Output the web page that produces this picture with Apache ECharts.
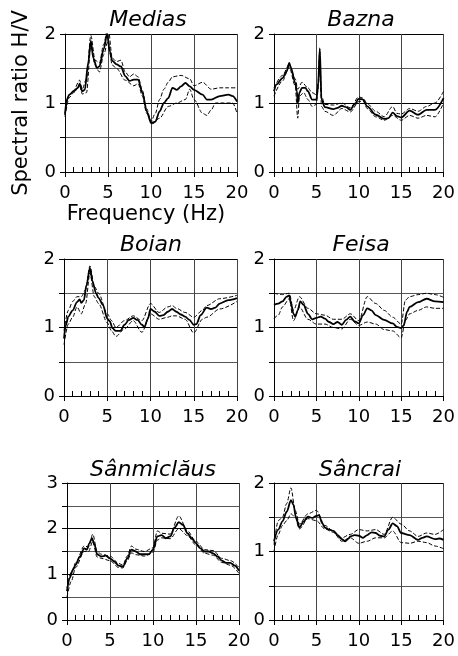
<!DOCTYPE html>
<html>
<head>
<meta charset="utf-8">
<script src="https://cdn.jsdelivr.net/npm/echarts@6/dist/echarts.min.js"></script>
<style>html,body{margin:0;padding:0;background:#fff}#c{width:458px;height:656px}</style>
</head>
<body>
<div id="c"></div>
<script>
// ---- Data (frequency in Hz, spectral ratio H/V) ----
var siteNames = ['Medias', 'Bazna', 'Boian', 'Feisa', 'Sânmiclăus', 'Sâncrai'];
var yMaxes = [2, 2, 2, 2, 3, 2];
var xTicks = [0, 5, 10, 15, 20];

var mediasFreq = [0,0.2,0.5,1,1.5,1.7,2,2.3,2.7,3,3.3,3.7,4,4.5,4.9,5.2,5.5,6,6.5,7,7.5,8,8.5,9,9.5,10,10.5,11,11.5,12,12.5,13,13.5,14,14.5,15,16,16.5,17,18,19,19.5,20];
var mediasMean = [0.83,1.05,1.12,1.17,1.22,1.28,1.17,1.19,1.58,1.90,1.65,1.51,1.53,1.78,2.0,1.75,1.61,1.56,1.53,1.39,1.32,1.34,1.34,1.15,0.88,0.71,0.73,0.88,1.0,1.07,1.22,1.19,1.24,1.29,1.24,1.19,1.12,1.05,1.05,1.10,1.12,1.10,1.02];
var mediasUpFreq = [0,0.5,1,1.7,2,2.5,3,3.5,4,4.5,5,5.5,6,6.5,7,7.5,8,8.5,9,9.5,10,10.5,11,11.5,12,12.5,13.5,14.5,15,16,17,18,19,20];
var mediasUp = [0.85,1.12,1.18,1.33,1.2,1.35,1.98,1.62,1.58,1.85,2.12,1.65,1.6,1.62,1.45,1.38,1.42,1.38,1.18,0.92,0.73,0.85,1.05,1.2,1.3,1.38,1.4,1.35,1.25,1.3,1.2,1.22,1.22,1.22];
var mediasLoFreq = [0,0.5,1,1.7,2,2.5,3,3.5,4,4.5,5,5.5,6,7,8,8.5,9,9.5,10.2,11,12,13,14,14.5,15,16,16.5,17,17.5,18.5,19.5,20];
var mediasLo = [0.8,1.08,1.15,1.25,1.13,1.15,1.82,1.55,1.45,1.7,1.9,1.55,1.5,1.33,1.25,1.28,1.1,0.85,0.7,0.78,0.95,1.0,1.05,1.2,1.05,0.85,0.82,0.9,1.0,1.0,1.0,0.85];

var baznaFreq = [0,0.3,1,1.5,1.8,2,2.5,2.7,2.8,3,3.3,3.7,4,4.5,5,5.2,5.4,5.6,6,7,7.5,8,8.5,9,9.5,10,10.5,11,12,13,13.5,14,14.5,15,16,17,18,19,20];
var baznaMean = [1.17,1.27,1.36,1.46,1.58,1.51,1.29,1.17,1.0,1.15,1.22,1.22,1.17,1.05,1.05,1.24,1.79,1.05,0.94,0.91,0.93,0.96,0.94,0.90,0.98,1.06,1.05,0.95,0.83,0.77,0.78,0.86,0.81,0.79,0.89,0.83,0.90,0.90,1.07];
var baznaUpFreq = [0,1,1.8,2.5,2.8,3.3,4,4.5,5,5.2,5.4,5.6,6,7,8,9,10,10.5,11,12,13,14,14.5,15,16,17,18,19,20];
var baznaUp = [1.22,1.4,1.56,1.35,1.2,1.3,1.22,1.15,1.12,1.3,1.75,1.1,0.98,0.97,1.0,0.93,1.09,1.07,0.99,0.88,0.8,0.95,0.85,0.84,0.92,0.88,0.95,1.0,1.17];
var baznaLoFreq = [0,1,1.8,2.5,2.8,3,3.5,4,4.5,5,5.2,5.4,5.6,6,7,8,9,10,10.5,11,12,13,14,15,16,17,18,19,20];
var baznaLo = [1.1,1.32,1.52,1.25,0.78,1.1,1.15,1.05,0.95,0.98,1.2,1.6,0.95,0.88,0.82,0.92,0.87,1.02,1.03,0.92,0.8,0.75,0.82,0.75,0.82,0.78,0.82,0.8,1.0];

var boianFreq = [0,0.2,0.5,1,1.5,1.8,2,2.3,2.6,3,3.3,3.7,4,4.5,5,5.3,5.6,6,6.5,7,7.5,8,8.5,9,9.3,9.7,10,10.5,11,11.5,12,12.5,13,13.5,14,14.5,15,15.3,15.8,16.5,17,17.5,18,19,20];
var boianMean = [0.84,1.03,1.16,1.25,1.37,1.41,1.36,1.40,1.62,1.87,1.67,1.50,1.43,1.33,1.13,1.09,0.99,0.95,0.95,1.04,1.11,1.14,1.11,1.04,1.01,1.13,1.27,1.23,1.17,1.18,1.23,1.27,1.23,1.19,1.16,1.11,1.04,1.05,1.18,1.29,1.27,1.29,1.35,1.40,1.43];
var boianBandFreq = [0,0.5,1,1.5,2,2.5,3,3.5,4,5,5.5,6,7,8,9,10,11,12,12.5,13,14,15,16,16.5,18,20];
var boianUp = [0.95,1.25,1.38,1.45,1.45,1.55,1.9,1.6,1.5,1.2,1.1,1.0,1.1,1.17,1.1,1.35,1.22,1.3,1.32,1.28,1.22,1.15,1.25,1.32,1.42,1.47];
var boianLo = [0.75,1.05,1.15,1.3,1.2,1.35,1.8,1.45,1.35,1.07,0.95,0.87,0.98,1.1,0.93,1.2,1.12,1.15,1.17,1.17,1.12,0.92,1.12,1.15,1.27,1.38];

var feisaFreq = [0,0.5,1,1.5,1.8,2,2.3,2.5,2.8,3.1,3.5,4,4.5,5,5.5,6,6.5,7,7.5,8,8.5,9,9.5,10,10.5,11,11.5,12,13,14,14.5,15,15.3,15.7,16,17,18,19,20];
var feisaMean = [1.33,1.35,1.38,1.45,1.47,1.35,1.20,1.16,1.25,1.38,1.33,1.20,1.12,1.14,1.16,1.13,1.08,1.05,1.08,1.04,1.11,1.16,1.09,1.06,1.18,1.28,1.25,1.18,1.11,1.06,1.01,0.99,1.03,1.23,1.30,1.37,1.42,1.38,1.37];
var feisaUpFreq = [0,1,1.8,2.3,3,4,5,6,7,8,9,10,11,12,13,14,15,15.5,16,17,18,19,20];
var feisaUp = [1.5,1.48,1.5,1.25,1.45,1.28,1.2,1.18,1.12,1.12,1.2,1.1,1.45,1.35,1.25,1.15,1.05,1.4,1.45,1.48,1.5,1.48,1.44];
var feisaLoFreq = [0,0.5,1,1.8,2.3,3,4,5,6,7,8,9,10,11,12,13,14,15,15.5,16,17,18,19,20];
var feisaLo = [1.13,1.18,1.3,1.42,1.1,1.3,1.12,1.05,1.05,1.0,0.98,1.12,1.03,1.08,1.05,0.97,0.95,0.85,1.1,1.2,1.25,1.3,1.28,1.28];

var sanmiFreq = [0,0.3,0.7,1,1.5,2,2.3,2.6,2.9,3.2,3.5,4,4.5,5,5.5,6,6.5,7,7.5,8,8.5,9,9.5,10,10.5,11,11.5,12,12.5,13,13.5,14,14.5,15,15.5,16,16.5,17,17.5,18,18.5,19,19.5,20];
var sanmiMean = [0.63,0.92,1.10,1.21,1.39,1.57,1.54,1.68,1.79,1.65,1.44,1.39,1.41,1.35,1.28,1.19,1.17,1.35,1.54,1.50,1.44,1.44,1.44,1.54,1.83,1.86,1.79,1.83,2.02,2.14,2.08,1.90,1.79,1.68,1.57,1.50,1.50,1.46,1.39,1.30,1.25,1.25,1.19,1.08];
var sanmiBandFreq = [0,0.5,1,2,2.5,3,3.5,4,5,6,6.5,7,7.5,8,9,10,10.5,11,12,13,14,15,16,17,18,19,20];
var sanmiUp = [0.7,1.05,1.25,1.62,1.6,1.88,1.5,1.44,1.4,1.24,1.2,1.4,1.62,1.55,1.5,1.58,1.95,1.9,1.88,2.28,1.95,1.72,1.54,1.52,1.35,1.3,1.15];
var sanmiLo = [0.5,0.85,1.15,1.5,1.5,1.72,1.38,1.35,1.3,1.15,1.14,1.3,1.47,1.43,1.4,1.48,1.75,1.8,1.78,2.0,1.85,1.64,1.46,1.42,1.26,1.2,1.02];

var sancrFreq = [0,0.5,1,1.5,2,2.3,2.6,3,3.5,4,4.5,5,5.3,5.7,6,6.5,7,7.5,8,8.4,8.8,9,9.5,10,10.5,11,11.5,12,12.5,13,13.5,14,14.5,15,16,17,17.5,18,19,19.5,20];
var sancrMean = [1.15,1.32,1.44,1.58,1.75,1.68,1.49,1.35,1.44,1.51,1.49,1.52,1.53,1.41,1.35,1.32,1.30,1.24,1.18,1.15,1.19,1.22,1.24,1.23,1.20,1.24,1.28,1.27,1.23,1.22,1.32,1.41,1.37,1.27,1.24,1.17,1.20,1.22,1.18,1.19,1.17];
var sancrBandFreq = [0,0.5,1,1.5,2,2.5,3,4,5,6,7,8,9,10,11,12,13,14,15,16,17,18,19,20];
var sancrUp = [1.1,1.45,1.5,1.7,1.93,1.6,1.4,1.55,1.6,1.38,1.3,1.2,1.25,1.32,1.3,1.32,1.25,1.5,1.4,1.3,1.22,1.27,1.25,1.32];
var sancrLo = [1.0,1.25,1.38,1.45,1.55,1.5,1.33,1.48,1.45,1.33,1.28,1.15,1.2,1.12,1.15,1.2,1.2,1.3,1.13,1.12,1.15,1.13,1.08,1.04];

var panels = [
  {mean:[mediasFreq,mediasMean], up:[mediasUpFreq,mediasUp], lo:[mediasLoFreq,mediasLo]},
  {mean:[baznaFreq,baznaMean], up:[baznaUpFreq,baznaUp], lo:[baznaLoFreq,baznaLo]},
  {mean:[boianFreq,boianMean], up:[boianBandFreq,boianUp], lo:[boianBandFreq,boianLo]},
  {mean:[feisaFreq,feisaMean], up:[feisaUpFreq,feisaUp], lo:[feisaLoFreq,feisaLo]},
  {mean:[sanmiFreq,sanmiMean], up:[sanmiBandFreq,sanmiUp], lo:[sanmiBandFreq,sanmiLo]},
  {mean:[sancrFreq,sancrMean], up:[sancrBandFreq,sancrUp], lo:[sancrBandFreq,sancrLo]}
];

// ---- Layout ----
var gridBoxes = [
  {left:65, top:34, width:172, height:138},
  {left:274, top:34, width:172, height:138},
  {left:64, top:259, width:173, height:137},
  {left:274, top:259, width:172, height:137},
  {left:67, top:483, width:172, height:137},
  {left:274, top:483, width:172, height:137}
];
var titlePos = [[148,20],[361,20],[151,245],[361,245],[153,470],[360,470]];
var FONT = '"DejaVu Sans", sans-serif';

function zip(a, b) { return a.map(function (x, i) { return [x, b[i]]; }); }

var grids = [], xAxes = [], yAxes = [], series = [], graphics = [];
panels.forEach(function (p, i) {
  grids.push(Object.assign({containLabel:false}, gridBoxes[i]));
  xAxes.push({
    type:'value', gridIndex:i, min:xTicks[0], max:xTicks[xTicks.length-1], interval:5,
    axisLine:{show:true, onZero:false, lineStyle:{color:'#000', width:1}},
    axisTick:{show:true, length:5, lineStyle:{color:'#000'}},
    minorTick:{show:true, splitNumber:5, length:-5, lineStyle:{color:'#000'}},
    splitLine:{show:true, lineStyle:{color:'#444', width:1}},
    axisLabel:{color:'#000', fontFamily:FONT, fontSize:18, margin:12}
  });
  yAxes.push({
    type:'value', gridIndex:i, min:0, max:yMaxes[i], interval:0.5,
    axisLine:{show:true, onZero:false, lineStyle:{color:'#000', width:1}},
    axisTick:{show:true, length:5, lineStyle:{color:'#000'}},
    splitLine:{show:true, lineStyle:{color:['#000','#555'], width:1}},
    axisLabel:{color:'#000', fontFamily:FONT, fontSize:18, margin:9,
      formatter:function (v) { return Math.abs(v - Math.round(v)) < 1e-9 ? String(Math.round(v)) : ''; }}
  });
  var base = {type:'line', xAxisIndex:i, yAxisIndex:i, showSymbol:false, symbol:'none',
    smooth:0.3, smoothMonotone:'x', silent:true, animation:false};
  series.push(Object.assign({}, base, {data:zip(p.up[0], p.up[1]), lineStyle:{color:'#000', width:1, type:[4,2]}, z:3}));
  series.push(Object.assign({}, base, {data:zip(p.lo[0], p.lo[1]), lineStyle:{color:'#000', width:1, type:[4,2]}, z:3}));
  series.push(Object.assign({}, base, {data:zip(p.mean[0], p.mean[1]), lineStyle:{color:'#000', width:1.8}, z:4}));
  graphics.push({type:'text', x:titlePos[i][0], y:titlePos[i][1], z:10,
    style:{text:siteNames[i], font:'italic 22px ' + FONT, fill:'#000', align:'center', verticalAlign:'middle'}});
});

graphics.push({type:'text', x:22, y:103, rotation:Math.PI/2, z:10,
  style:{text:'Spectral ratio H/V', font:'21px ' + FONT, fill:'#000', align:'center', verticalAlign:'middle'}});
graphics.push({type:'text', x:146, y:215, z:10,
  style:{text:'Frequency (Hz)', font:'21px ' + FONT, fill:'#000', align:'center', verticalAlign:'middle'}});

var chart = echarts.init(document.getElementById('c'), null, {renderer:'canvas'});
chart.setOption({
  animation:false,
  backgroundColor:'#fff',
  grid:grids, xAxis:xAxes, yAxis:yAxes, series:series, graphic:graphics
});
</script>
</body>
</html>
